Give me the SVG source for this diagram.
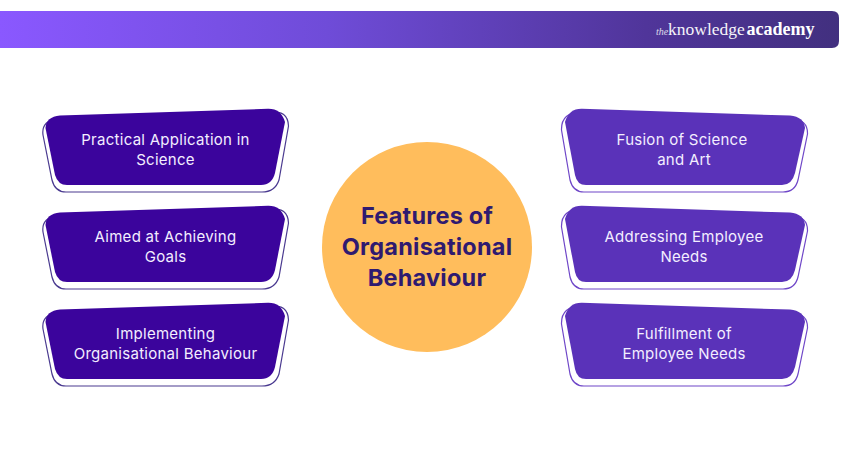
<svg xmlns="http://www.w3.org/2000/svg" width="850" height="450" viewBox="0 0 850 450">
<style>
.lbl{font-family:"Inter","Liberation Sans",sans-serif;font-size:15px;letter-spacing:0.27px;fill:#f3eeff;text-anchor:middle}
.ttl{font-family:"Inter","Liberation Sans",sans-serif;font-size:23.5px;font-weight:700;letter-spacing:0.22px;fill:#2f1a70;text-anchor:middle}
.logo{font-family:"Liberation Serif",serif;fill:#fff}
.ol{fill:#fff;stroke:#4a3a90;stroke-width:1.2}
.olr{fill:#fff;stroke:#6f47c8;stroke-width:1.2}
.fl{fill:#3b049c}
.fr{fill:#5a32b9}
</style>
<defs>
<linearGradient id="hdr" x1="0" y1="0" x2="1" y2="0"><stop offset="0" stop-color="#8a58ff"/><stop offset="0.39" stop-color="#6f4cd8"/><stop offset="0.77" stop-color="#50359a"/><stop offset="1" stop-color="#42307f"/></linearGradient>
<path id="lo" d="M60 118 L270 112 Q288 110 288.500 126 L279 180 Q275 192 262 192 L66 192 Q55 192 52 180 L43 135 Q41 120 60 118Z"/>
<path id="lf" d="M60 115.600 L268 108.800 Q281 108.500 285 122 L275 173 Q272 185 261 185 L67 185 Q58 185 55 175 L45.500 128 Q46 117 60 115.600Z"/>
<path id="ro" d="M582 112 L792 118 Q808 120 807.500 134 L798 180 Q795 192 783 192 L584 192 Q573 192 570 180 L561.500 130 Q561 112 582 112Z"/>
<path id="rf" d="M582 108.800 L790 115.600 Q804 117 805 128 L795 173 Q792 185 782 185 L586 185 Q577 185 575 175 L565 122 Q569 108.500 582 108.800Z"/>
</defs>
<g id="header">
<path d="M0 11 H832 Q839 11 839 18 V41 Q839 48 832 48 H0Z" fill="url(#hdr)"/>
<text class="logo" x="656" y="35" font-size="10" font-style="italic" opacity="0.8">the</text>
<text class="logo" x="668" y="35" font-size="17.500" opacity="0.95">knowledge</text>
<text class="logo" x="746.500" y="35" font-size="18" font-weight="700">academy</text>
</g>
<g id="connectors"></g>
<g id="center"><circle cx="427" cy="247" r="105" fill="#ffbd5c"/>
<text class="ttl" x="427" y="224">Features of</text><text class="ttl" x="427" y="255">Organisational</text><text class="ttl" x="427" y="286">Behaviour</text></g>
<g id="left1"><use href="#lo" class="ol"/><use href="#lf" class="fl"/><text class="lbl" x="165.500" y="145">Practical Application in</text><text class="lbl" x="165.500" y="165">Science</text></g>
<g id="left2"><use href="#lo" class="ol" y="97"/><use href="#lf" class="fl" y="97"/><text class="lbl" x="165.500" y="242">Aimed at Achieving</text><text class="lbl" x="165.500" y="262">Goals</text></g>
<g id="left3"><use href="#lo" class="ol" y="194"/><use href="#lf" class="fl" y="194"/><text class="lbl" x="165.500" y="339">Implementing</text><text class="lbl" x="165.500" y="359">Organisational Behaviour</text></g>
<g id="right1"><use href="#ro" class="olr"/><use href="#rf" class="fr"/><text class="lbl" x="682" y="145">Fusion of Science</text><text class="lbl" x="684" y="165">and Art</text></g>
<g id="right2"><use href="#ro" class="olr" y="97"/><use href="#rf" class="fr" y="97"/><text class="lbl" x="684" y="242">Addressing Employee</text><text class="lbl" x="684" y="262">Needs</text></g>
<g id="right3"><use href="#ro" class="olr" y="194"/><use href="#rf" class="fr" y="194"/><text class="lbl" x="684" y="339">Fulfillment of</text><text class="lbl" x="684" y="359">Employee Needs</text></g>
</svg>
